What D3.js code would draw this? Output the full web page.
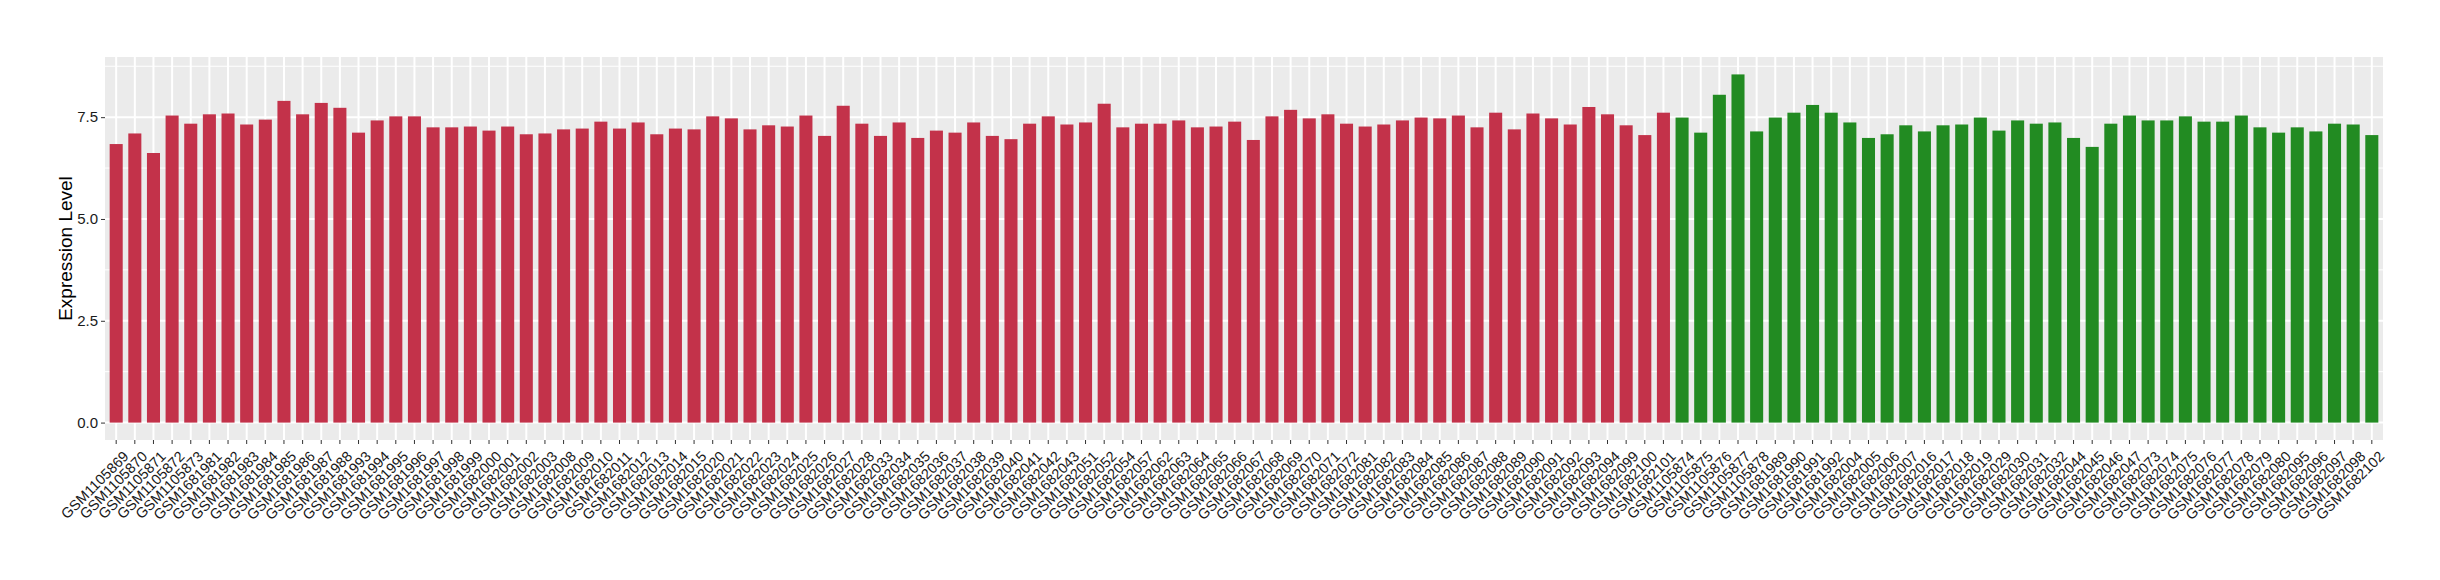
<!DOCTYPE html>
<html>
<head>
<meta charset="utf-8">
<script src="https://cdn.jsdelivr.net/npm/d3@7/dist/d3.min.js"></script>
<style>
    body { margin: 0; background: #fff; }
    svg { display: block; font-family: "Liberation Sans", Arial, sans-serif; }
    .axis path { display: none; }
    .axis line { stroke: #333; }
    .axis text { fill: #1a1a1a; }
</style>
</head>
<body>
<div id="chart"></div>
<script>
// red group samples + values
const redSamples = [
    'GSM1105869', 'GSM1105870', 'GSM1105871', 'GSM1105872', 'GSM1105873',
    'GSM1681981', 'GSM1681982', 'GSM1681983', 'GSM1681984', 'GSM1681985', 'GSM1681986', 'GSM1681987', 'GSM1681988',
    'GSM1681993', 'GSM1681994', 'GSM1681995', 'GSM1681996', 'GSM1681997', 'GSM1681998', 'GSM1681999',
    'GSM1682000', 'GSM1682001', 'GSM1682002', 'GSM1682003',
    'GSM1682008', 'GSM1682009', 'GSM1682010', 'GSM1682011', 'GSM1682012', 'GSM1682013', 'GSM1682014', 'GSM1682015',
    'GSM1682020', 'GSM1682021', 'GSM1682022', 'GSM1682023', 'GSM1682024', 'GSM1682025', 'GSM1682026', 'GSM1682027', 'GSM1682028',
    'GSM1682033', 'GSM1682034', 'GSM1682035', 'GSM1682036', 'GSM1682037', 'GSM1682038', 'GSM1682039', 'GSM1682040', 'GSM1682041', 'GSM1682042', 'GSM1682043',
    'GSM1682051', 'GSM1682052', 'GSM1682054', 'GSM1682057',
    'GSM1682062', 'GSM1682063', 'GSM1682064', 'GSM1682065', 'GSM1682066', 'GSM1682067', 'GSM1682068', 'GSM1682069', 'GSM1682070', 'GSM1682071', 'GSM1682072',
    'GSM1682081', 'GSM1682082', 'GSM1682083', 'GSM1682084', 'GSM1682085', 'GSM1682086', 'GSM1682087', 'GSM1682088', 'GSM1682089', 'GSM1682090', 'GSM1682091', 'GSM1682092', 'GSM1682093', 'GSM1682094',
    'GSM1682099', 'GSM1682100', 'GSM1682101'
];
const redValues = [
    6.84, 7.10, 6.62, 7.54, 7.34,
    7.57, 7.59, 7.32, 7.44, 7.90, 7.57, 7.85, 7.73,
    7.12, 7.42, 7.52, 7.52, 7.25, 7.25, 7.27,
    7.17, 7.27, 7.08, 7.10,
    7.20, 7.22, 7.39, 7.22, 7.37, 7.08, 7.22, 7.20,
    7.52, 7.47, 7.20, 7.30, 7.27, 7.54, 7.04, 7.78, 7.34,
    7.04, 7.37, 6.99, 7.17, 7.12, 7.37, 7.04, 6.96, 7.34, 7.52, 7.32,
    7.37, 7.83, 7.25, 7.34,
    7.34, 7.42, 7.25, 7.27, 7.39, 6.94, 7.52, 7.68, 7.47, 7.57, 7.34,
    7.27, 7.32, 7.42, 7.49, 7.47, 7.54, 7.25, 7.61, 7.20, 7.59, 7.47, 7.32, 7.75, 7.57,
    7.30, 7.06, 7.61
];

// green group samples + values
const greenSamples = [
    'GSM1105874', 'GSM1105875', 'GSM1105876', 'GSM1105877', 'GSM1105878',
    'GSM1681989', 'GSM1681990', 'GSM1681991', 'GSM1681992',
    'GSM1682004', 'GSM1682005', 'GSM1682006', 'GSM1682007',
    'GSM1682016', 'GSM1682017', 'GSM1682018', 'GSM1682019',
    'GSM1682029', 'GSM1682030', 'GSM1682031', 'GSM1682032',
    'GSM1682044', 'GSM1682045', 'GSM1682046', 'GSM1682047',
    'GSM1682073', 'GSM1682074', 'GSM1682075', 'GSM1682076', 'GSM1682077', 'GSM1682078', 'GSM1682079', 'GSM1682080',
    'GSM1682095', 'GSM1682096', 'GSM1682097', 'GSM1682098',
    'GSM1682102'
];
const greenValues = [
    7.49, 7.12, 8.05, 8.55, 7.15,
    7.49, 7.61, 7.80, 7.61,
    7.37, 6.99, 7.08, 7.30,
    7.15, 7.30, 7.32, 7.49,
    7.17, 7.42, 7.34, 7.37,
    6.99, 6.77, 7.34, 7.54,
    7.42, 7.42, 7.52, 7.39, 7.39, 7.54, 7.25, 7.12,
    7.25, 7.15, 7.34, 7.32,
    7.06
];

const yTicks = [0, 2.5, 5, 7.5];
const yMinorTicks = [1.25, 3.75, 6.25, 8.75];
const yTitle = 'Expression Level';

const groupColors = { red: '#c3324a', green: '#228b22' };

// ******************************* //
// BUILD ROWS
// ******************************* //
const rows = redSamples.map((s, i) => ({ name: s, value: redValues[i], group: 'red' }))
    .concat(greenSamples.map((s, i) => ({ name: s, value: greenValues[i], group: 'green' })));

const WIDTH = 2440;
const HEIGHT = 580;
const MARGIN = { top: 57, right: 57, bottom: 140, left: 105 };
const gW = WIDTH - MARGIN.left - MARGIN.right;
const gH = HEIGHT - MARGIN.top - MARGIN.bottom;

const svg = d3.select('#chart').append('svg')
    .attr('width', WIDTH)
    .attr('height', HEIGHT);

const g = svg.append('g')
    .attr('transform', `translate(${MARGIN.left},${MARGIN.top})`);

// X SCALE (ggplot-like: 0.6 step expansion each side, bar width 0.7)
const x = d3.scaleBand()
    .domain(rows.map(d => d.name))
    .range([0, gW])
    .paddingInner(0.3)
    .paddingOuter(0.25);

// Y SCALE (5% expansion both ends)
const maxVal = d3.max(rows, d => d.value);
const y = d3.scaleLinear()
    .domain([-0.05 * maxVal, 1.05 * maxVal])
    .range([gH, 0]);

// PANEL BG
g.append('rect')
    .attr('width', gW)
    .attr('height', gH)
    .attr('fill', '#ebebeb');

// GRID
g.selectAll('.grid-minor')
    .data(yMinorTicks.filter(t => y(t) > 0))
    .enter().append('line')
    .attr('class', 'grid-minor')
    .attr('x1', 0).attr('x2', gW)
    .attr('y1', d => y(d)).attr('y2', d => y(d))
    .attr('stroke', '#fff')
    .attr('stroke-width', 1);

g.selectAll('.grid-major-y')
    .data(yTicks)
    .enter().append('line')
    .attr('class', 'grid-major-y')
    .attr('x1', 0).attr('x2', gW)
    .attr('y1', d => y(d)).attr('y2', d => y(d))
    .attr('stroke', '#fff')
    .attr('stroke-width', 2);

g.selectAll('.grid-major-x')
    .data(rows)
    .enter().append('line')
    .attr('class', 'grid-major-x')
    .attr('x1', d => x(d.name) + x.bandwidth() / 2)
    .attr('x2', d => x(d.name) + x.bandwidth() / 2)
    .attr('y1', 0).attr('y2', gH)
    .attr('stroke', '#fff')
    .attr('stroke-width', 2);

// BARS
g.selectAll('.bars-data')
    .data(rows)
    .enter().append('rect')
    .attr('class', 'bars-data')
    .attr('x', d => x(d.name))
    .attr('width', x.bandwidth())
    .attr('y', d => y(d.value))
    .attr('height', d => y(0) - y(d.value))
    .attr('fill', d => groupColors[d.group]);

// Y AXIS
const yAxis = g.append('g')
    .attr('class', 'axis y-axis')
    .call(d3.axisLeft(y)
        .tickValues(yTicks)
        .tickFormat(d3.format('.1f'))
        .tickSize(4)
        .tickPadding(3));
yAxis.selectAll('text').style('font-size', '15px');

// X AXIS
const xAxis = g.append('g')
    .attr('class', 'axis x-axis')
    .attr('transform', `translate(0,${gH})`)
    .call(d3.axisBottom(x).tickSize(4).tickPadding(0));

xAxis.selectAll('text')
    .style('font-size', '14.5px')
    .attr('text-anchor', 'end')
    .attr('y', 0)
    .attr('dy', 0)
    .attr('transform', 'translate(6,10) rotate(-45)')
    .attr('dominant-baseline', 'hanging');

// Y TITLE
svg.append('text')
    .attr('transform', `translate(${MARGIN.left - 33},${MARGIN.top + gH / 2}) rotate(-90)`)
    .attr('text-anchor', 'middle')
    .style('font-size', '19px')
    .attr('fill', '#000')
    .text(yTitle);
</script>
</body>
</html>
